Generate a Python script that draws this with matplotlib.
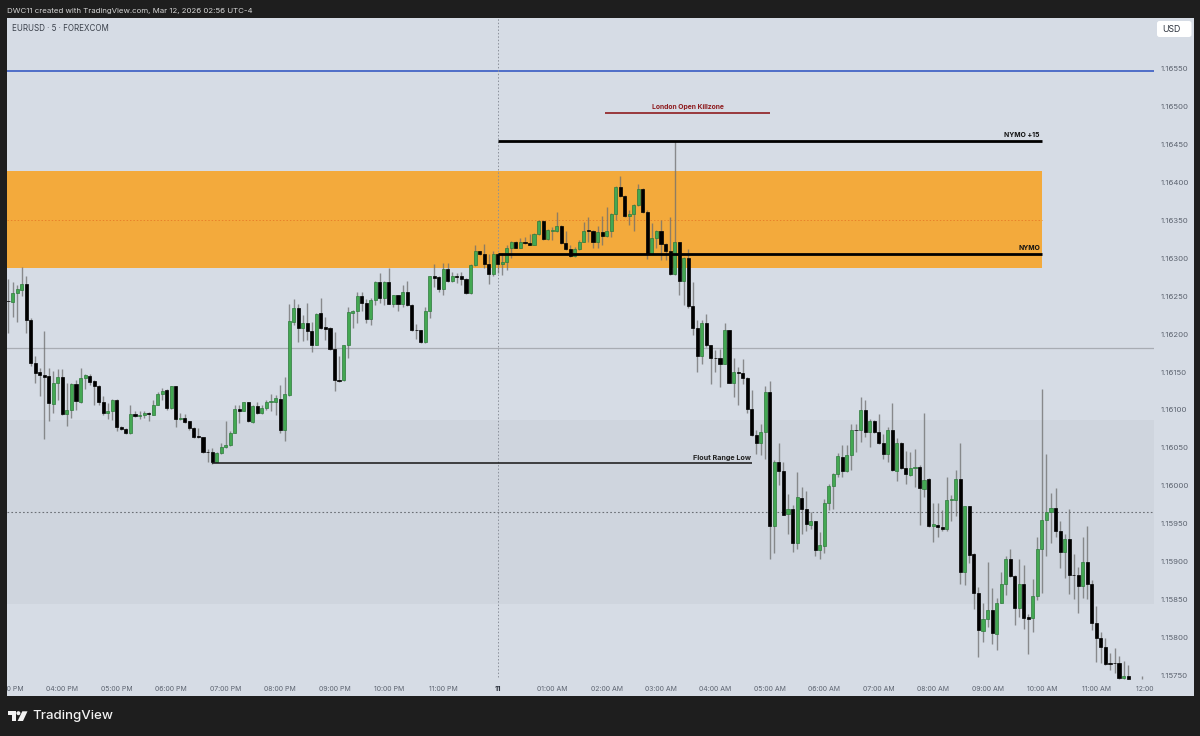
#!/usr/bin/env python3
# -*- coding: utf-8 -*-


import numpy as np
import matplotlib
matplotlib.use('Agg')
import matplotlib.pyplot as plt
from matplotlib.patches import Rectangle, Circle, Polygon, FancyBboxPatch

plt.rcParams['font.family'] = ['Inter', 'DejaVu Sans']

W, H = 1200, 736

# prices in points (116244 = 1.16244), one row per hour of 5 min candles
opens = [
    116244,116242,116254,116258,116266,116219,116162,116150,116146,116145,116108,116135,
    116143,116095,116100,116134,116111,116142,116145,116138,116132,116110,116096,116099,
    116113,116078,116075,116069,116095,116092,116093,116096,116094,116107,116121,116126,
    116102,116131,116088,116090,116085,116076,116066,116064,116045,116044,116032,116043,
    116051,116054,116070,116101,116099,116110,116084,116105,116096,116102,116111,116110,
    116115,116074,116120,116216,116235,116208,116215,116204,116186,116228,116209,116208,
    116180,116139,116139,116185,116228,116231,116250,116241,116220,116245,116269,116248,
    116269,116240,116251,116240,116255,116238,116206,116205,116189,116230,116276,116275,
    116259,116286,116270,116277,116276,116273,116254,116291,116309,116306,116292,116279,
    116306,116293,116295,116314,116322,116314,116321,116320,116318,116332,116349,116325,
    116336,116336,116342,116320,116312,116303,116312,116322,116337,116336,116321,116335,
    116329,116336,116358,116394,116382,116355,116358,116370,116391,116361,116306,116327,
    116336,116319,116309,116279,116321,116270,116300,116237,116208,116171,116215,116185,
    116169,116169,116161,116205,116136,116150,116149,116142,116101,116067,116056,116071,
    116124,115947,116031,116020,115963,115969,115925,115984,115970,115949,115953,115916,
    115921,115978,116000,116016,116038,116019,116040,116074,116074,116100,116071,116085,
    116071,116056,116042,116074,116020,116057,116023,116014,116023,116025,115996,116009,
    115947,115949,115946,115943,115981,115981,116009,115887,115973,115910,115859,115809,
    115825,115837,115805,115846,115870,115903,115881,115839,115871,115827,115826,115855,
    115917,115955,115965,115971,115941,115913,115930,115883,115882,115868,115899,115870,
    115819,115800,115788,115766,115767,115766,115747,115750,
]
closes = [
    116243,116254,116259,116266,116219,116162,116149,116146,116144,116109,116135,116144,
    116095,116100,116134,116112,116142,116146,116137,116132,116110,116096,116099,116113,
    116078,116075,116069,116095,116092,116094,116096,116095,116107,116121,116125,116102,
    116131,116088,116090,116084,116076,116065,116064,116044,116044,116032,116043,116051,
    116054,116070,116101,116099,116110,116085,116105,116096,116102,116111,116112,116116,
    116074,116121,116217,116235,116208,116215,116204,116186,116227,116208,116207,116180,
    116139,116138,116185,116229,116231,116250,116241,116220,116245,116269,116248,116269,
    116240,116251,116240,116256,116238,116205,116205,116189,116230,116276,116274,116259,
    116286,116270,116277,116275,116273,116254,116291,116309,116306,116292,116279,116306,
    116293,116295,116314,116322,116314,116321,116320,116318,116332,116349,116325,116337,
    116337,116342,116320,116312,116303,116312,116322,116336,116336,116321,116335,116329,
    116336,116358,116394,116382,116355,116358,116370,116391,116361,116306,116327,116336,
    116319,116309,116279,116321,116270,116300,116237,116208,116171,116215,116185,116169,
    116168,116161,116205,116136,116150,116149,116142,116101,116067,116056,116071,116124,
    115947,116031,116020,115962,115969,115925,115985,115970,115950,115953,115916,115922,
    115978,116000,116015,116039,116019,116040,116074,116073,116100,116071,116085,116071,
    116056,116042,116074,116021,116057,116023,116015,116023,116025,115997,116008,115947,
    115950,115946,115943,115981,115982,116009,115887,115973,115909,115859,115810,115825,
    115837,115806,115846,115870,115903,115881,115839,115871,115826,115825,115855,115917,
    115955,115965,115971,115941,115913,115930,115882,115882,115868,115899,115870,115819,
    115800,115788,115765,115765,115766,115747,115750,115746,
]
highs = [
    116272,116269,116265,116288,116276,116221,116171,116155,116204,116155,116151,116154,
    116154,116135,116135,116140,116155,116147,116147,116140,116133,116119,116109,116114,
    116114,116079,116076,116106,116098,116098,116099,116097,116113,116124,116129,116128,
    116132,116132,116096,116095,116086,116077,116076,116065,116048,116050,116045,116057,
    116085,116072,116106,116106,116111,116111,116106,116110,116107,116113,116121,116120,
    116133,116143,116240,116246,116240,116225,116241,116216,116228,116248,116222,116209,
    116203,116171,116186,116236,116232,116256,116256,116246,116248,116270,116281,116270,
    116287,116252,116252,116265,116270,116239,116213,116206,116236,116277,116293,116276,
    116294,116294,116282,116281,116282,116274,116293,116317,116310,116319,116306,116309,
    116307,116306,116317,116323,116323,116326,116328,116332,116333,116350,116350,116338,
    116341,116361,116344,116336,116317,116315,116324,116348,116354,116337,116342,116355,
    116367,116360,116395,116408,116383,116364,116371,116398,116392,116364,116346,116337,
    116351,116320,116354,116454,116322,116301,116312,116269,116218,116218,116227,116186,
    116179,116180,116214,116206,116168,116157,116167,116143,116126,116074,116081,116132,
    116138,116034,116057,116031,115989,115975,116018,115998,115993,115966,115954,115939,
    115982,116002,116017,116043,116054,116054,116082,116082,116117,116113,116088,116087,
    116095,116068,116077,116109,116063,116058,116046,116044,116048,116027,116096,116010,
    115978,115977,115968,116011,115988,116021,116056,115974,115974,115911,115867,115845,
    115899,115866,115852,115887,115907,115917,115882,115904,115896,115831,115877,115932,
    116127,116042,115990,115997,115954,115937,115970,115910,115893,115932,115947,115876,
    115841,115807,115799,115780,115786,115776,115769,115764,
]
lows = [
    116201,116223,116216,116250,116201,116158,116135,116118,116062,116085,116096,116113,
    116094,116079,116089,116100,116109,116127,116133,116107,116107,116094,116088,116087,
    116072,116074,116068,116068,116091,116088,116089,116085,116093,116106,116113,116100,
    116101,116078,116087,116083,116074,116063,116063,116043,116031,116029,116031,116042,
    116050,116053,116069,116083,116098,116084,116083,116095,116095,116100,116098,116094,
    116070,116059,116118,116212,116190,116191,116192,116176,116185,116207,116192,116179,
    116125,116137,116138,116168,116208,116215,116231,116214,116212,116238,116241,116238,
    116239,116236,116230,116236,116237,116204,116193,116188,116188,116221,116262,116255,
    116252,116269,116268,116267,116265,116253,116253,116290,116304,116287,116266,116277,
    116280,116278,116284,116300,116313,116313,116319,116317,116317,116331,116324,116324,
    116324,116335,116319,116311,116302,116301,116311,116321,116322,116313,116313,116317,
    116328,116328,116351,116381,116354,116344,116336,116369,116360,116299,116305,116314,
    116297,116297,116278,116278,116252,116238,116235,116199,116150,116161,116183,116134,
    116150,116130,116160,116135,116117,116106,116134,116096,116066,116042,116041,116036,
    115904,115912,116001,115961,115936,115913,115917,115936,115941,115943,115907,115903,
    115911,115968,115970,116011,116011,116018,116021,116045,116058,116065,116051,116070,
    116055,116036,116032,116020,116007,116022,116003,116013,115998,115948,115985,115946,
    115926,115933,115940,115941,115953,115960,115871,115869,115898,115838,115775,115794,
    115814,115792,115784,115845,115856,115880,115816,115827,115811,115778,115808,115849,
    115859,115907,115924,115933,115892,115878,115858,115851,115832,115852,115851,115810,
    115768,115767,115764,115757,115753,115746,115745,115745,
]

# stray print right of the last candle
stray_x, stray_low, stray_high = 250, 115745, 115750

hour_labels = ['03:00 PM', '04:00 PM', '05:00 PM', '06:00 PM', '07:00 PM', '08:00 PM',
               '09:00 PM', '10:00 PM', '11:00 PM', '11', '01:00 AM', '02:00 AM',
               '03:00 AM', '04:00 AM', '05:00 AM', '06:00 AM', '07:00 AM', '08:00 AM',
               '09:00 AM', '10:00 AM', '11:00 AM', '12:00 PM']
price_ticks = [116550, 116500, 116450, 116400, 116350, 116300, 116250, 116200, 116150,
               116100, 116050, 116000, 115950, 115900, 115850, 115800, 115750]

# drawings on the chart
zone_top, zone_mid, zone_bottom = 116415, 116350, 116287
grey_zone_top, grey_zone_bottom = 116087, 115844
blue_level = 116547
grey_level = 116182
dotted_level = 115965
nymo = 116305.5
nymo_15 = 116454
killzone_level = 116492
flout_low = 116030
crosshair_low = 115748

DARK = '#1e1e1e'
PANEL = '#d6dce5'
GREY_ZONE = '#cfd5de'
ORANGE = '#f3aa3c'
GREEN = '#43a852'
TICK_COL = '#5d6470'
WICK = '#6e6e6e'


def px_rect(x0, y0, x1, y1):
    """pixel box (y from top) to figure fractions"""
    return [x0 / W, 1 - y1 / H, (x1 - x0) / W, (y1 - y0) / H]


fig = plt.figure(figsize=(W / 100, H / 100), dpi=100, facecolor=DARK)
l, b, w, h = px_rect(6.5, 18, 1193.5, 696)
fig.add_artist(Rectangle((l, b), w, h, transform=fig.transFigure, color=PANEL, lw=0, zorder=-1))

ax = fig.add_axes(px_rect(6.5, 18, 1153.5, 696))
ax.set_facecolor(PANEL)
for s in ax.spines.values():
    s.set_visible(False)

ax.set_xlim(-0.33, 252.6)
ax.set_ylim(115723, 116616.6)

x = np.arange(len(opens))
o = np.array(opens)
c = np.array(closes)
up = c >= o
zone_end = 228

# zones and levels
ax.axhspan(grey_zone_bottom, grey_zone_top, color=GREY_ZONE, lw=0, zorder=0.5)
ax.fill_between([-0.33, zone_end], zone_bottom, zone_top, color=ORANGE, lw=0, zorder=0.6)
ax.plot([-0.33, zone_end], [zone_mid, zone_mid], color='#e8812a', lw=0.7, ls=(0, (1.5, 2)), zorder=0.7)
ax.axhline(blue_level, color='#2a50c0', lw=1.1, zorder=1)
ax.axhline(grey_level, color='#a8acb3', lw=0.9, zorder=1)
ax.axhline(dotted_level, color='#6b6f75', lw=0.8, ls=(0, (1.5, 2)), zorder=1)
ax.plot([108, 108], [crosshair_low, 116616.6], color='#8b909a', lw=0.7, ls=(0, (1.5, 2)), zorder=1)

# candles
ax.vlines(x, np.array(lows), np.array(highs), color=WICK, alpha=0.75, lw=1.0, zorder=2)
ax.vlines([stray_x], [stray_low], [stray_high], color=WICK, alpha=0.75, lw=1.0, zorder=2)
ax.bar(x[up], (c - o)[up], bottom=o[up], width=0.68, color=GREEN, edgecolor='#2f7a3d', lw=0.5, zorder=3)
ax.bar(x[~up], (c - o)[~up], bottom=o[~up], width=0.68, color='black', edgecolor='black', lw=0.5, zorder=3)

# trend lines and their labels
ax.plot([108, zone_end], [nymo_15, nymo_15], color='black', lw=2.0, solid_capstyle='butt', zorder=4)
ax.plot([108, zone_end], [nymo, nymo], color='black', lw=2.0, solid_capstyle='butt', zorder=4)
ax.plot([131.6, 168], [killzone_level, killzone_level], color='#8f1d20', lw=1.2, solid_capstyle='butt', zorder=4)
ax.plot([45, 164], [flout_low, flout_low], color='#151515', lw=1.1, solid_capstyle='butt', zorder=4)

label_font = dict(fontsize=4.9, fontweight='bold', ha='center', va='bottom', zorder=5)
ax.text(223.6, nymo_15 + 4, 'NYMO +15', color='#111111', **label_font)
ax.text(225.25, nymo + 4, 'NYMO', color='#111111', **label_font)
ax.text(149.9, killzone_level + 4, 'London Open Killzone', color='#8f1d20', **label_font)
ax.text(157.4, flout_low + 3, 'Flout Range Low', color='#222222', **dict(label_font, fontsize=5.2))

# axes
ax.set_xticks(np.arange(len(hour_labels)) * 12)
ax.set_xticklabels(hour_labels)
ax.set_yticks(price_ticks)
ax.set_yticklabels(['%.5f' % (p / 1e5) for p in price_ticks])
ax.yaxis.tick_right()
ax.tick_params(axis='y', length=0, pad=4.9, labelsize=5.6, labelcolor=TICK_COL)
ax.tick_params(axis='x', length=0, pad=-7.5, labelsize=5.0, labelcolor=TICK_COL)
for lab in ax.get_xticklabels():
    lab.set_clip_on(True)
    lab.set_clip_box(ax.bbox)
    if lab.get_text() == '11':
        lab.set_fontweight('bold')
        lab.set_fontsize(5.6)
        lab.set_color('#2f3540')

# header, footer
fig.text(7 / W, 1 - 10.5 / H, 'DWC11 created with TradingView.com, Mar 12, 2026 02:56 UTC-4',
         color='#d4d4d4', fontsize=5.65, va='center')
fig.text(12 / W, 1 - 28.5 / H, 'EURUSD · 5 · FOREXCOM', color='#3a404a', fontsize=5.75, va='center')

ux0, ux1, uy0, uy1 = 1157, 1191.5, 21, 37
fig.add_artist(FancyBboxPatch((ux0, H - uy1), ux1 - ux0, uy1 - uy0, boxstyle='round,pad=0,rounding_size=2.5',
                              transform=None, fc='white', ec='none'))
fig.text(1162 / W, 1 - 29 / H, 'USD', color='#2f3540', fontsize=6.3, va='center')

# logo mark, in figure pixels
logo_col = '#f2f2f2'
fig.add_artist(Polygon([(8, H - 711.3), (15.8, H - 711.3), (15.8, H - 721), (12, H - 721),
                        (12, H - 714.8), (8, H - 714.8)], closed=True, transform=None, fc=logo_col, ec='none'))
fig.add_artist(Circle((18.4, H - 713.2), 2.0, transform=None, fc=logo_col, ec='none'))
fig.add_artist(Polygon([(22.3, H - 711.3), (27.5, H - 711.3), (23, H - 721), (17.6, H - 721)],
                       closed=True, transform=None, fc=logo_col, ec='none'))
fig.text(32 / W, 1 - 716 / H, 'TradingView', color=logo_col, fontsize=9.6, fontweight='medium', va='center')

fig.savefig('out.png', dpi=100, facecolor=DARK)
